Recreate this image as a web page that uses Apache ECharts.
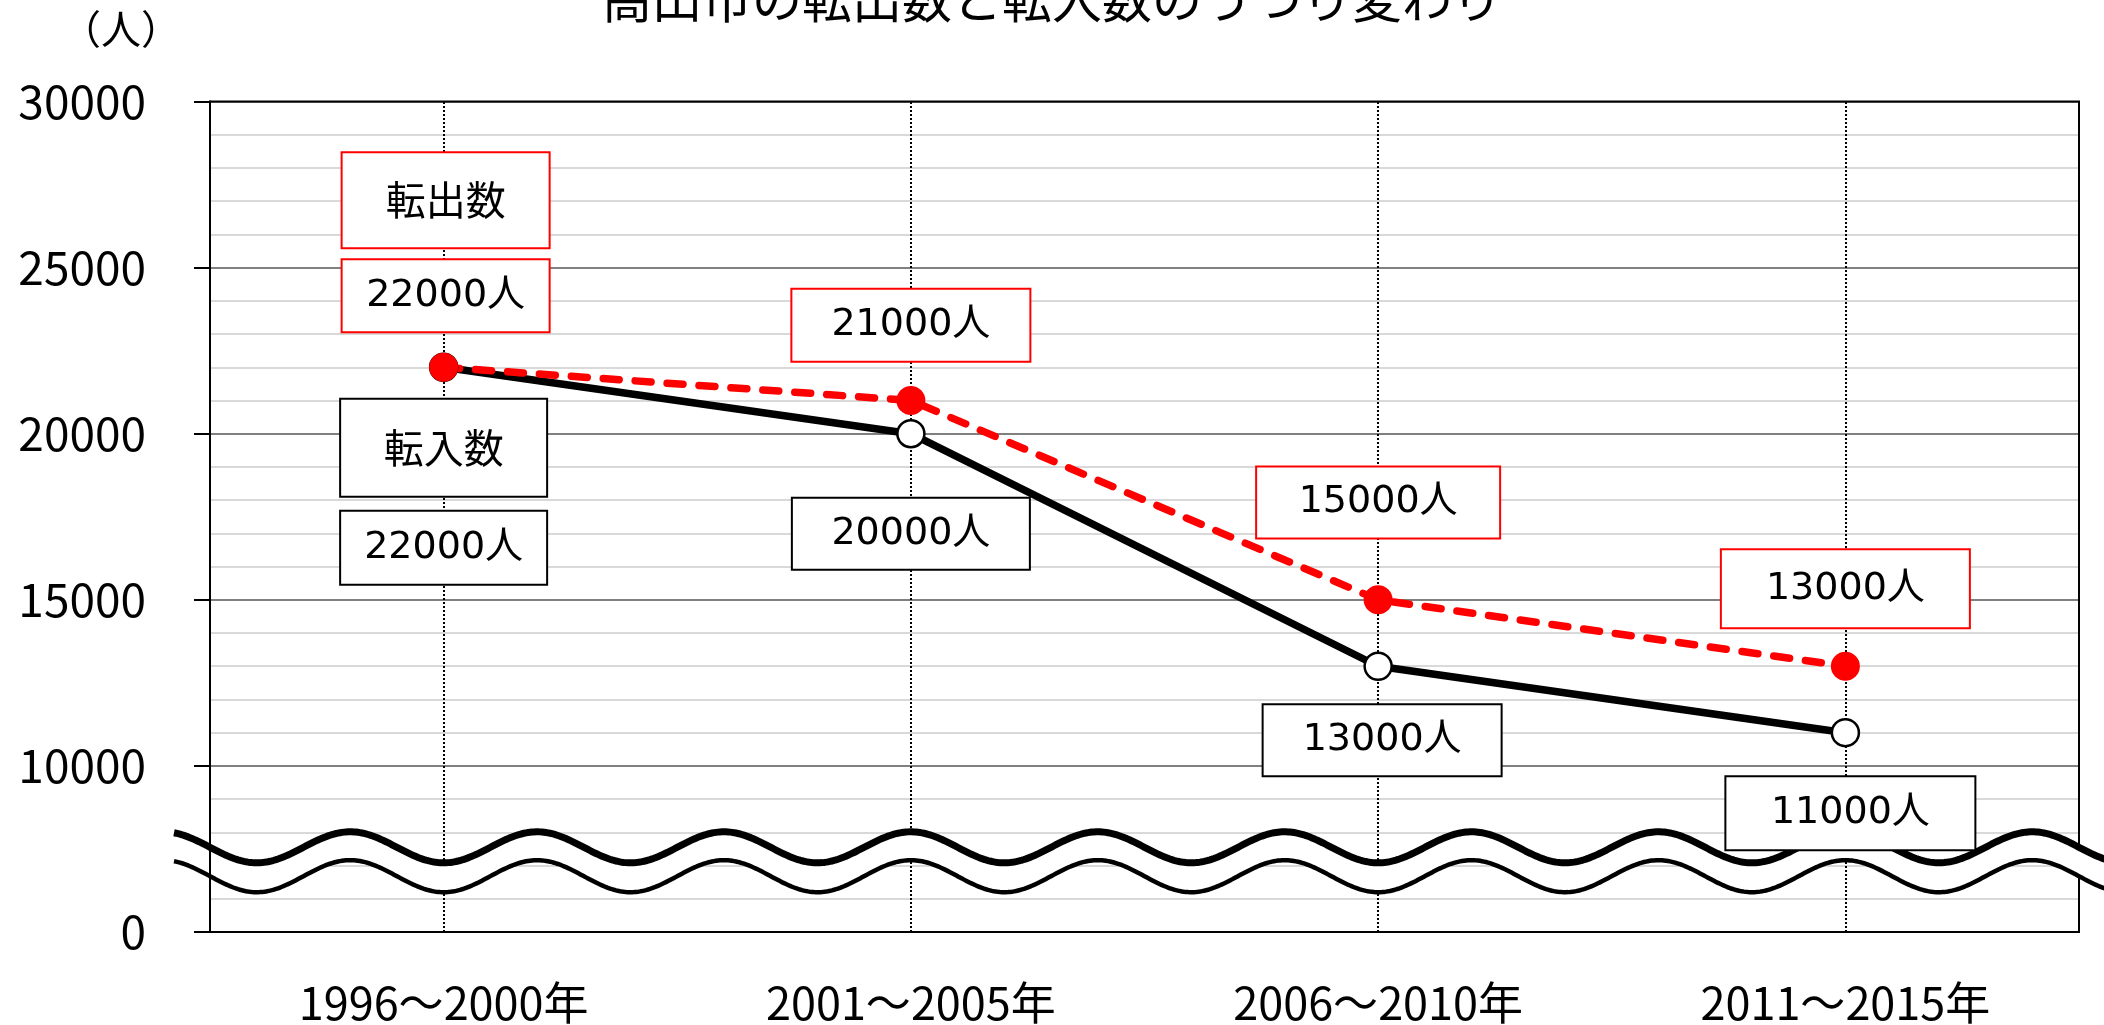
<!DOCTYPE html>
<html><head><meta charset="utf-8">
<script src="https://cdn.jsdelivr.net/npm/echarts@6/dist/echarts.min.js"></script>
<style>html,body{margin:0;padding:0;background:#fff;}#c{width:2104px;height:1025px;}</style>
</head><body><div id="c"></div>
<script>
// ---- data ----
const titleText = '高山市の転出数と転入数のうつり変わり';
const unitText = '（人）';
const categories = ['1996～2000年', '2001～2005年', '2006～2010年', '2011～2015年'];
const outName = '転出数';
const inName = '転入数';
const outValues = [22000, 21000, 15000, 13000];
const inValues = [22000, 20000, 13000, 11000];
const yTickValues = [5000, 10000, 15000, 20000, 25000, 30000];
const yTickLabels = ['0', '10000', '15000', '20000', '25000', '30000'];
const valueSuffix = '人';

// ---- label box layout (not data) ----
const outBoxW = [206, 237, 242, 247];
const outBoxH = [71, 71, 70, 77];
const outDx = [2, 0, 0, 0];
const outDy = [-118.6, -75.3, -97.4, -77.5];
const inBoxW = [205, 236, 237, 248];
const inBoxH = [72, 70, 70, 72];
const inDx = [0, 0, 4, 5];
const inDy = [132.4, 100, 74, 80.5];

const cjk = '"Noto Sans CJK JP", sans-serif';
const labelFont = '"DejaVu Sans", "Noto Sans CJK JP", sans-serif';

function buildItems(vals, name, color, W, H, DX, DY, nameH, gap) {
  return vals.map((v, i) => {
    const rich = {
      v: { width: W[i], height: H[i], lineHeight: i === 0 ? H[i] + 2 * gap : H[i], align: 'center',
           backgroundColor: '#fff', borderColor: color, borderWidth: 2, fontSize: 38,
           fontFamily: labelFont, color: '#000' },
      n: { width: W[i], height: nameH, lineHeight: nameH, align: 'center', backgroundColor: '#fff',
           borderColor: color, borderWidth: 2, fontSize: 40, fontFamily: cjk, color: '#000' }
    };
    const text = (i === 0 ? '{n|' + name + '}\n' : '') + '{v|' + v + valueSuffix + '}';
    return { value: v, label: { show: true, position: 'inside', offset: [DX[i], DY[i]],
      formatter: text, rich: rich, align: 'center', verticalAlign: 'middle' } };
  });
}

const chart = echarts.init(document.getElementById('c'), null, { renderer: 'canvas' });
const option = {
  animation: false,
  backgroundColor: '#fff',
  title: { text: titleText, left: 'center', top: -26, padding: 0,
    textStyle: { fontSize: 50, fontWeight: 'normal', fontFamily: cjk, color: '#000' } },
  grid: { left: 210, right: 25, top: 101.5, bottom: 92.5, show: true, borderColor: '#000',
    borderWidth: 2, z: 1, backgroundColor: 'transparent' },
  xAxis: { type: 'category', data: categories, boundaryGap: true, z: 0,
    axisLine: { show: true, lineStyle: { color: '#000', width: 2 } },
    axisTick: { show: false },
    axisLabel: { margin: 48, fontSize: 45, fontFamily: cjk, color: '#000' },
    splitLine: { show: false } },
  yAxis: [
    { type: 'value', min: 5000, max: 30000, interval: 5000, z: 0,
      axisLine: { show: false }, axisTick: { show: false },
      axisLabel: { margin: 64, fontSize: 46, fontFamily: cjk, color: '#000', padding: [0, 0, 14, 0],
        formatter: v => { const k = yTickValues.indexOf(v); return k >= 0 ? yTickLabels[k] : ''; } },
      splitLine: { show: true, lineStyle: { color: '#808080', width: 2 } },
      minorTick: { show: false, splitNumber: 5 },
      minorSplitLine: { show: true, lineStyle: { color: '#d9d9d9', width: 2 } } },
    { type: 'value', min: 5000, max: 30000, interval: 5000, position: 'left', z: 5,
      axisLine: { show: true, lineStyle: { color: '#000', width: 2 } },
      axisTick: { show: true, inside: false, length: 16, lineStyle: { color: '#000', width: 2 } },
      axisLabel: { show: false }, splitLine: { show: false } }
  ],
  series: [
    { name: inName, type: 'line', yAxisIndex: 0, z: 10,
      data: buildItems(inValues, inName, '#000', inBoxW, inBoxH, inDx, inDy, 96, 16),
      symbol: 'circle', symbolSize: 27,
      lineStyle: { color: '#000', width: 7.5 },
      itemStyle: { color: '#fff', borderColor: '#000', borderWidth: 2.5 },
      emphasis: { disabled: true },
      markLine: { z: 1, silent: true, symbol: 'none', label: { show: false },
        lineStyle: { color: '#000', width: 2, type: [2, 2] },
        emphasis: { disabled: true },
        data: categories.map(c => ({ xAxis: c })) } },
    { name: outName, type: 'line', yAxisIndex: 0, z: 10,
      data: buildItems(outValues, outName, '#ff0000', outBoxW, outBoxH, outDx, outDy, 94, 13),
      symbol: 'circle', symbolSize: 29,
      lineStyle: { color: '#ff0000', width: 7.5, type: [16, 16], cap: 'round' },
      itemStyle: { color: '#ff0000' },
      emphasis: { disabled: true } }
  ]
};
chart.setOption(option);

// ---- break (wave) decoration and unit label ----
const x0 = chart.convertToPixel({ xAxisIndex: 0 }, categories[0]);
const x1 = chart.convertToPixel({ xAxisIndex: 0 }, categories[1]);
const period = (x1 - x0) / 2.5;
const baseY = chart.convertToPixel({ yAxisIndex: 0 }, yTickValues[0]);
const upC = baseY - 84.7, loC = baseY - 55.8;
const up = [], lo = [];
for (let x = 174; x <= 2106; x += 2) {
  const c = Math.cos(2 * Math.PI * (x - x0) / period);
  up.push([x, upC + 15.5 * c]);
  lo.push([x, loC + 16 * c]);
}
chart.setOption({
  graphic: [
    { type: 'polygon', z: 3, silent: true, shape: { points: up.concat(lo.slice().reverse()) }, style: { fill: '#fff' } },
    { type: 'polyline', z: 3, silent: true, shape: { points: up }, style: { stroke: '#000', lineWidth: 7, fill: null } },
    { type: 'polyline', z: 3, silent: true, shape: { points: lo }, style: { stroke: '#000', lineWidth: 4.5, fill: null } },
    { type: 'text', z: 3, silent: true, x: 121, y: 29,
      style: { text: unitText, fontSize: 40, fontFamily: cjk, fill: '#000', align: 'center', verticalAlign: 'middle',
        textAlign: 'center', textVerticalAlign: 'middle' } }
  ]
});
</script></body></html>
